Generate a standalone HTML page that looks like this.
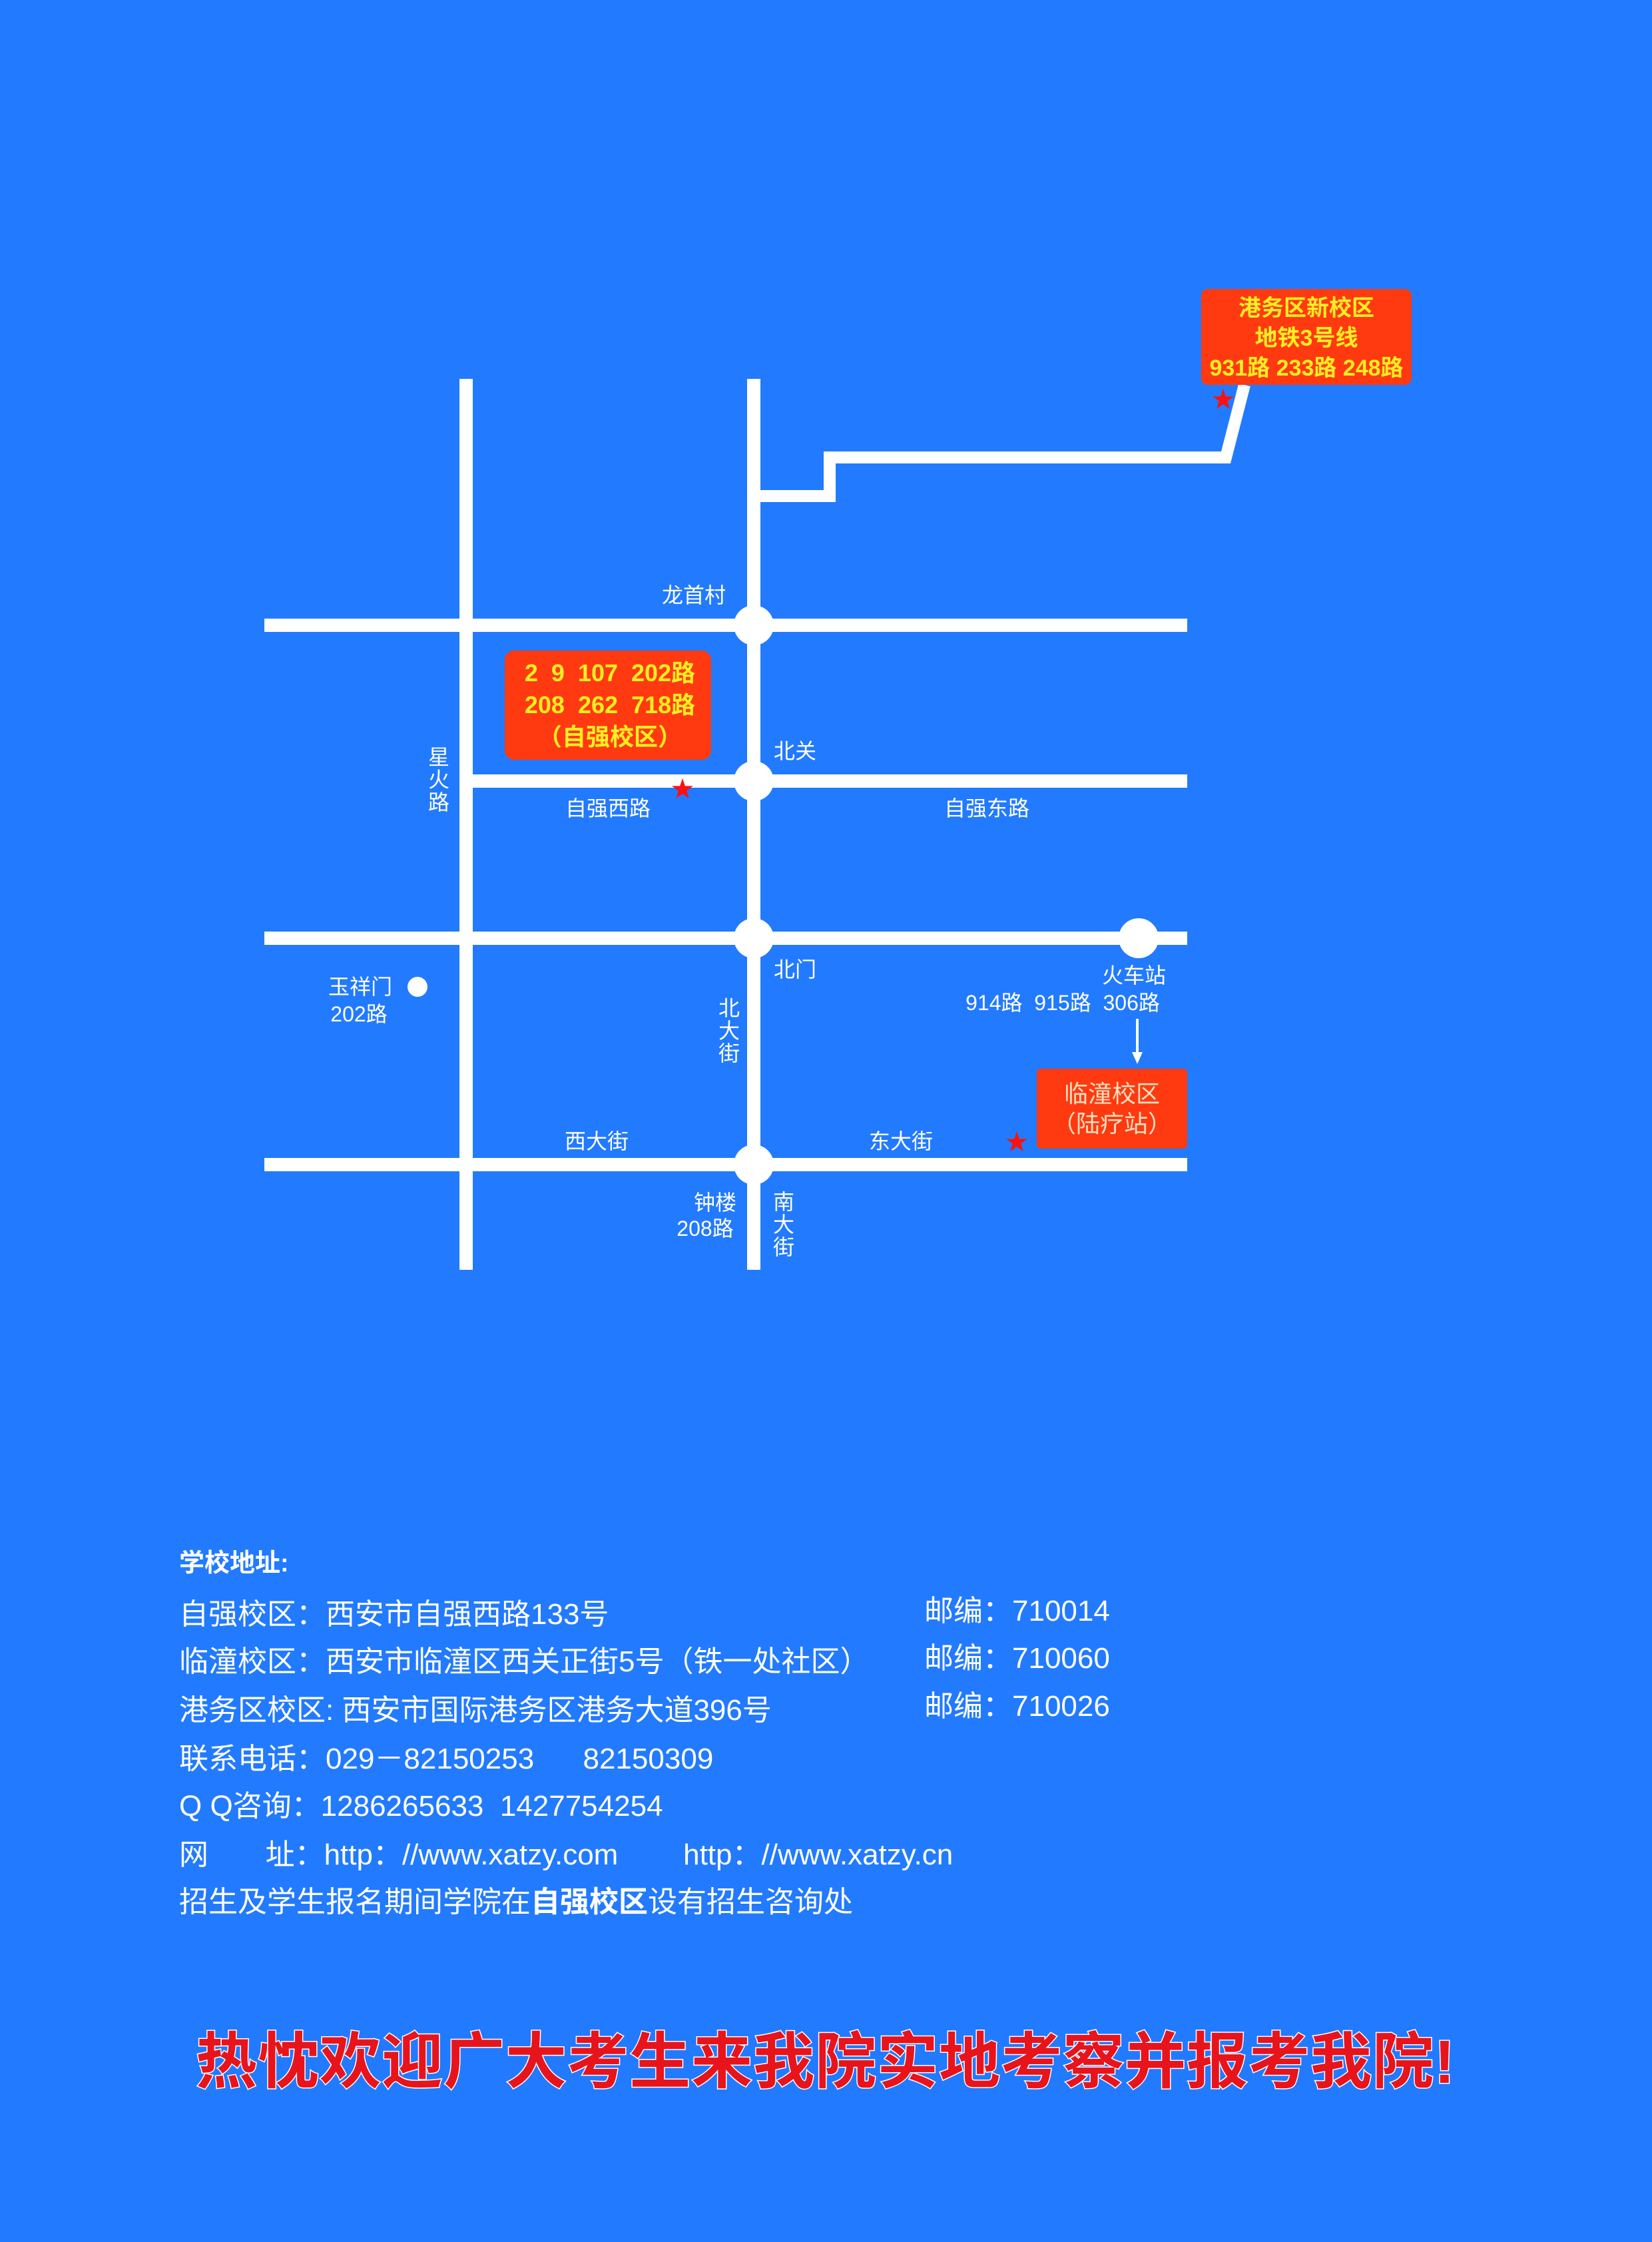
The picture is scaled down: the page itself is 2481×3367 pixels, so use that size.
<!DOCTYPE html>
<html><head><meta charset="utf-8"><style>
html,body{margin:0;padding:0;background:#227aff;}
svg{display:block;}
text{font-family:"Liberation Sans","Noto Sans CJK SC",sans-serif;white-space:pre;}
</style></head><body>
<svg width="2481" height="3367" viewBox="0 0 2481 3367" xmlns="http://www.w3.org/2000/svg" xml:space="preserve">
<rect width="2481" height="3367" fill="#227aff"/>
<g fill="#fff">
<rect x="690" y="569" width="20" height="1338"/>
<rect x="1122" y="569" width="20" height="1338"/>
<rect x="397" y="929" width="1386" height="20"/>
<rect x="700" y="1163" width="1083" height="20"/>
<rect x="397" y="1399" width="1386" height="20"/>
<rect x="397" y="1739" width="1386" height="20"/>
<circle cx="1132" cy="939" r="30"/>
<circle cx="1132" cy="1173" r="30"/>
<circle cx="1132" cy="1409" r="30"/>
<circle cx="1132" cy="1749" r="30"/>
<circle cx="1710" cy="1409" r="30"/>
<circle cx="627" cy="1482" r="15"/>
</g>
<polyline points="1132,745 1246,745 1246,687 1841,687 1869,578" fill="none" stroke="#fff" stroke-width="18"/>
<line x1="1708" y1="1530" x2="1708" y2="1585" stroke="#fff" stroke-width="4"/>
<polygon points="1700,1580 1716,1580 1708,1598" fill="#fff"/>
<rect x="1804" y="434" width="316" height="144" rx="10" fill="#ff3a10"/>
<rect x="758" y="977" width="310" height="164" rx="14" fill="#ff3a10"/>
<rect x="1557" y="1605" width="226" height="120" rx="6" fill="#ff3a10"/>
<g fill="#ffee22" font-size="34" text-anchor="middle" font-weight="bold">
<text x="1962" y="474">港务区新校区</text>
<text x="1962" y="519">地铁3号线</text>
<text x="1962" y="564">931路 233路 248路</text>
</g>
<g fill="#ffee22" font-size="36" text-anchor="middle" font-weight="bold">
<text x="916" y="1023">2  9  107  202路</text>
<text x="916" y="1071">208  262  718路</text>
<text x="916" y="1119">（自强校区）</text>
</g>
<g fill="#ffe0c0" font-size="36" text-anchor="middle">
<text x="1670" y="1655">临潼校区</text>
<text x="1670" y="1700">（陆疗站）</text>
</g>
<g fill="#ff1010" font-size="34" text-anchor="middle">
<text x="1025" y="1197">★</text>
<text x="1527" y="1727">★</text>
<text x="1837" y="612">★</text>
</g>
<g fill="#fff" font-size="32" text-anchor="middle">
<text x="1042" y="905">龙首村</text>
<text x="1194" y="1139">北关</text>
<text x="913" y="1225">自强西路</text>
<text x="1482" y="1225">自强东路</text>
<text x="1194" y="1467">北门</text>
<text x="1703" y="1476">火车站</text>
<text x="1596" y="1517">914路  915路  306路</text>
<text x="541" y="1493">玉祥门</text>
<text x="539" y="1534">202路</text>
<text x="896" y="1725">西大街</text>
<text x="1353" y="1725">东大街</text>
<text x="1074" y="1817">钟楼</text>
<text x="1059" y="1856">208路</text>
<text x="659" y="1148">星</text><text x="659" y="1182">火</text><text x="659" y="1216">路</text>
<text x="1095" y="1525">北</text><text x="1095" y="1559">大</text><text x="1095" y="1593">街</text>
<text x="1177" y="1816">南</text><text x="1177" y="1850">大</text><text x="1177" y="1884">街</text>
</g>
<text x="269" y="2360" fill="#fff" font-size="38" font-weight="bold">学校地址:</text>
<g fill="#fff" font-size="44">
<text x="269" y="2439">自强校区：西安市自强西路133号</text>
<text x="1388" y="2434">邮编：710014</text>
<text x="269" y="2510">临潼校区：西安市临潼区西关正街5号（铁一处社区）</text>
<text x="1388" y="2505">邮编：710060</text>
<text x="269" y="2583">港务区校区: 西安市国际港务区港务大道396号</text>
<text x="1388" y="2577">邮编：710026</text>
<text x="269" y="2656">联系电话：029－82150253      82150309</text>
<text x="269" y="2727">Q Q咨询：1286265633  1427754254</text>
<text x="269" y="2800">网       址：http：//www.xatzy.com        http：//www.xatzy.cn</text>
<text x="269" y="2871">招生及学生报名期间学院在<tspan font-weight="bold">自强校区</tspan>设有招生咨询处</text>
</g>
<text x="1240" y="3128" text-anchor="middle" fill="#e8141c" stroke="#fff" stroke-width="3" paint-order="stroke" font-size="92" font-weight="bold" letter-spacing="1">热忱欢迎广大考生来我院实地考察并报考我院!</text>
</svg>
</body></html>
